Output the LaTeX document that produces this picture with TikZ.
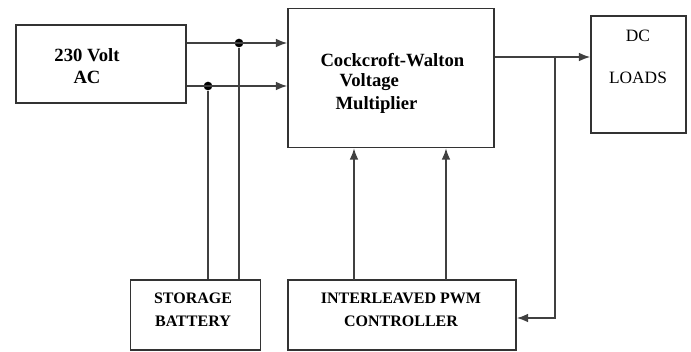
\documentclass[tikz,border=0pt]{standalone}
\usepackage{fontspec}
\setmainfont{Liberation Serif}
\usetikzlibrary{arrows.meta}
\tikzset{every picture/.style={line width=0.75pt}}
\tikzset{
  blockbox/.style={draw=black!80, line width=1.1pt, inner sep=0pt},
  wire/.style={draw=black!75, line width=1.2pt},
  tip/.style={-{Latex[length=8.5pt,width=6.5pt]}},
  jdot/.style={circle, fill=black, inner sep=0pt, minimum size=6.5pt},
  bigtxt/.style={font=\fontsize{14}{17}\selectfont\bfseries, inner sep=0pt},
  smalltxt/.style={font=\fontsize{12}{17}\selectfont\bfseries, inner sep=0pt, align=center}
}

\begin{document}
\begin{tikzpicture}[x=0.75pt,y=0.75pt,yscale=-1,xscale=1]
		\useasboundingbox (0,0) rectangle (691,351);
		
		%Shape: Rectangle [id:ac]
		\node[blockbox, minimum width=127.5pt, minimum height=58.5pt] (ac) at (101,64) {};
		%Shape: Rectangle [id:cw]
		\node[blockbox, minimum width=154.5pt, minimum height=104.25pt] (cw) at (391,78) {};
		%Shape: Rectangle [id:loads]
		\node[blockbox, minimum width=71.25pt, minimum height=87.75pt] (loads) at (638.5,74.5) {};
		%Shape: Rectangle [id:bat]
		\node[blockbox, minimum width=97.5pt, minimum height=52.5pt] (bat) at (195.5,315) {};
		%Shape: Rectangle [id:ctrl]
		\node[blockbox, minimum width=171pt, minimum height=52.5pt] (ctrl) at (402,315) {};
		
		% Text Node
		\node[bigtxt, align=center] (actxt) at (87,66) {230 Volt\\AC};
		% Text Node
		\node[bigtxt, anchor=west] (cwtxtA) at (320,60) {Cockcroft-Walton};
		\node[bigtxt, anchor=west] (cwtxtB) at (339,82) {Voltage};
		\node[bigtxt, anchor=west] (cwtxtC) at (335,105) {Multiplier};
		% Text Node
		\node[font=\fontsize{13}{17}\selectfont, inner sep=0pt] (dctxt) at (638,36) {DC};
		\node[font=\fontsize{13}{17}\selectfont, inner sep=0pt] (loadtxt) at (638,78) {LOADS};
		% Text Node
		\node[smalltxt] (battxt) at (193,310) {STORAGE\\BATTERY};
		\node[smalltxt] (ctrltxt) at (401,310) {INTERLEAVED PWM\\CONTROLLER};
		
		%Junction dots
		\node[jdot] (dotA) at (239,43) {};
		\node[jdot] (dotB) at (208,86) {};
		
		%Straight Lines [AC to multiplier]
		\draw[wire, tip] (ac.east |- dotA) -- (cw.west |- dotA);
		\draw[wire, tip] (ac.east |- dotB) -- (cw.west |- dotB);
		%Straight Lines [battery taps]
		\draw[wire] (dotA) -- (dotA |- bat.north);
		\draw[wire] (dotB) -- (dotB |- bat.north);
		
		%Straight Lines [output and feedback]
		\coordinate (tap) at (555,57);
		\coordinate (fb) at (555,318);
		\draw[wire, tip] (cw.east |- tap) -- (loads.west |- tap);
		\draw[wire, tip] (tap) -- (fb) -- (ctrl.east |- fb);
		
		%Straight Lines [gate signals]
		\coordinate (pwmA) at (354,280);
		\coordinate (pwmB) at (446,280);
		\draw[wire, tip] (pwmA) -- (pwmA |- cw.south);
		\draw[wire, tip] (pwmB) -- (pwmB |- cw.south);
		
\end{tikzpicture}
\end{document}
